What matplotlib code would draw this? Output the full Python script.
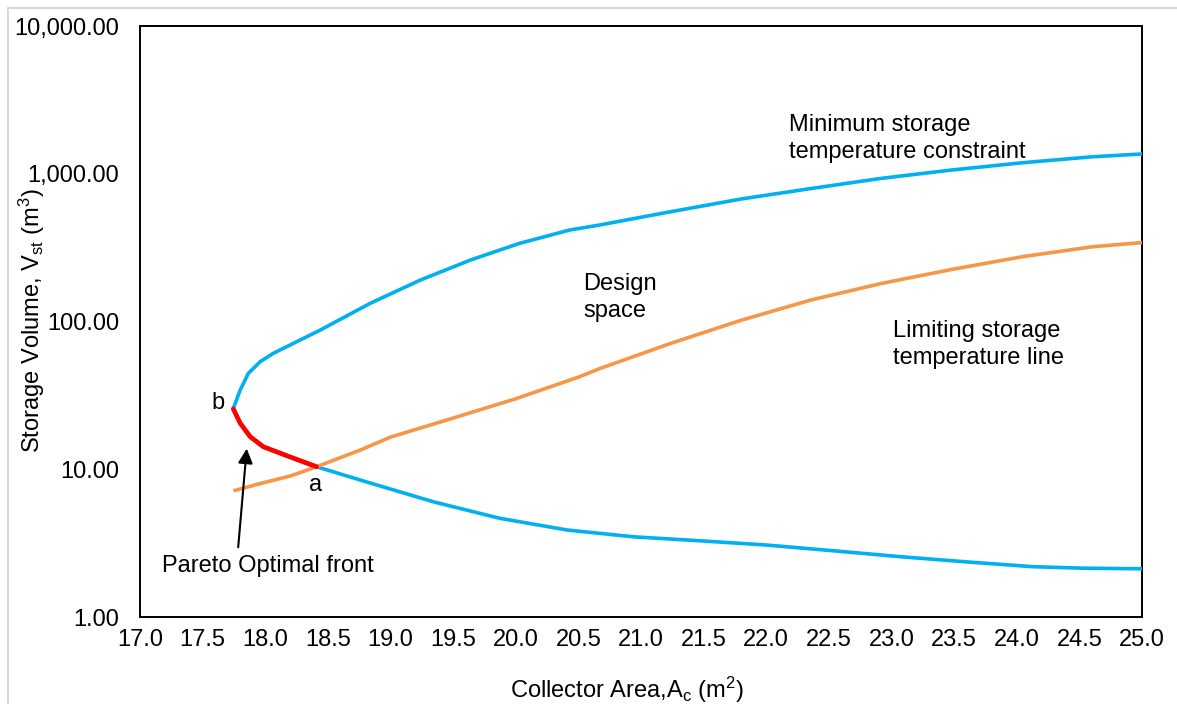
import numpy as np
import matplotlib
matplotlib.use("Agg")
from matplotlib import pyplot as plt
from matplotlib.ticker import FuncFormatter, FixedLocator, NullLocator
from matplotlib.lines import Line2D

plt.rcParams['font.family'] = ['Liberation Sans', 'DejaVu Sans']
plt.rcParams['mathtext.default'] = 'regular'

# minimum storage temperature constraint (lower branch from A=25 back to b, then upper branch)
min_A = [25.0, 24.53, 24.13, 23.6, 23.07, 22.53, 22.0, 21.47, 20.94, 20.41, 19.87, 19.34, 18.81,
         18.41, 18.20, 17.985, 17.88, 17.80, 17.745,
         17.80, 17.865, 17.96, 18.064, 18.44, 18.84, 19.24, 19.64, 20.03, 20.43, 20.67,
         21.235, 21.80, 22.36, 22.92, 23.48, 24.05, 24.61, 25.0]
min_V = [2.12, 2.14, 2.19, 2.36, 2.56, 2.81, 3.07, 3.28, 3.49, 3.88, 4.66, 6.03, 8.2,
         10.4, 12.1, 14.2, 16.6, 20.5, 25.8,
         34.4, 44.6, 53.5, 60.9, 87.6, 133, 191, 261, 338, 416, 450,
         553, 675, 795, 931, 1060, 1188, 1304, 1361]

# limiting storage temperature line
lim_A = [17.76, 17.96, 18.2, 18.41, 18.76, 19.0, 19.5, 20.0, 20.5, 20.67, 21.235, 21.8,
         22.36, 22.92, 23.48, 24.05, 24.61, 25.0]
lim_V = [7.2, 8.0, 9.0, 10.4, 13.5, 16.5, 22.2, 30, 42, 48, 71, 102,
         140, 181, 225, 275, 321, 342]

# pareto optimal front (b -> a)
par_A = [17.745, 17.80, 17.88, 17.985, 18.20, 18.41]
par_V = [25.6, 20.5, 16.6, 14.2, 12.1, 10.4]

x_ticks = np.arange(17.0, 25.01, 0.5)
y_ticks = [1, 10, 100, 1000, 10000]

fig = plt.figure(figsize=(11.77, 7.04), dpi=100)
ax = fig.add_axes([140/1177, 1 - 617/704, (1142 - 140)/1177, (617 - 26)/704])

ax.plot(min_A, min_V, color='#00B0F0', lw=2.6, solid_joinstyle='round', zorder=3)
ax.plot(lim_A, lim_V, color='#F79646', lw=2.6, solid_joinstyle='round', zorder=3)
ax.plot(par_A, par_V, color='#FF0000', lw=3.4, solid_capstyle='round', solid_joinstyle='round', zorder=4)

ax.set_yscale('log')
ax.set_xlim(17.0, 25.0)
ax.set_ylim(1, 10000)
ax.xaxis.set_major_locator(FixedLocator(x_ticks))
ax.yaxis.set_major_locator(FixedLocator(y_ticks))
ax.yaxis.set_minor_locator(NullLocator())
ax.xaxis.set_major_formatter(FuncFormatter(lambda v, p: '%.1f' % v))
ax.yaxis.set_major_formatter(FuncFormatter(lambda v, p: '{:,.2f}'.format(v)))
ax.tick_params(axis='both', length=0, labelsize=17, colors='black')
ax.tick_params(axis='x', pad=9)
ax.tick_params(axis='y', pad=15)
for s in ax.spines.values():
    s.set_linewidth(1.4)
    s.set_color('black')

fs = 17
ax.text(22.18, 1733, 'Minimum storage\ntemperature constraint', fontsize=fs, ha='left', va='center', linespacing=1.3)
ax.text(20.54, 146, 'Design\nspace', fontsize=fs, ha='left', va='center', linespacing=1.3)
ax.text(23.01, 70, 'Limiting storage\ntemperature line', fontsize=fs, ha='left', va='center', linespacing=1.3)
ax.text(17.623, 28.1, 'b', fontsize=fs, ha='center', va='center')
ax.text(18.405, 7.8, 'a', fontsize=fs, ha='center', va='center')
ax.text(17.176, 2.21, 'Pareto Optimal front', fontsize=fs, ha='left', va='center')
ax.annotate('', xy=(17.854, 14.4), xytext=(17.782, 2.84),
            arrowprops=dict(arrowstyle='-|>', color='black', lw=1.5, mutation_scale=22))

fig.text(627/1177, 1 - 690/704, 'Collector Area,A$_c$ (m$^2$)', fontsize=fs, ha='center', va='center')
fig.text(32/1177, 1 - 321/704, 'Storage Volume, V$_{st}$ (m$^3$)', fontsize=fs, ha='center', va='center', rotation=90)

# light frame around the chart area
fig.add_artist(Line2D([8/1177, 8/1177], [0, 1 - 8/704], transform=fig.transFigure, color='#D9D9D9', lw=1.5))
fig.add_artist(Line2D([8/1177, 1], [1 - 8/704, 1 - 8/704], transform=fig.transFigure, color='#D9D9D9', lw=1.5))

fig.savefig('out.png', dpi=100)
